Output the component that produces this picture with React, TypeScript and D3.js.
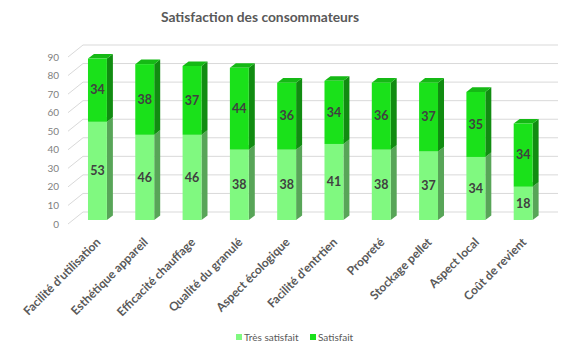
import * as d3 from 'd3'

const categories = [
  "Facilité d'utilisation",
  'Esthétique appareil',
  'Efficacité chauffage',
  'Qualité du granulé',
  'Aspect écologique',
  "Facilité d'entrtien",
  'Propreté',
  'Stockage pellet',
  'Aspect local',
  'Coût de revient',
]
const tresSatisfait = [53, 46, 46, 38, 38, 41, 38, 37, 34, 18]
const satisfait = [34, 38, 37, 44, 36, 34, 36, 37, 35, 34]
const seriesNames = ['Très satisfait', 'Satisfait']
const yTicks = [0, 10, 20, 30, 40, 50, 60, 70, 80, 90]

const W = 587
const H = 354
const FONT = 'Lato, "Open Sans", sans-serif'

// 3d depth of the plot (front -> back wall)
const DX = 15
const DY = -12
// bars sit a third of the way in, and are 0.4 of the depth deep
const barShift = { x: DX / 3, y: DY / 3 }
const barDepth = { x: 6, y: -4.6 }

const colors = [
  { front: '#80f980', side: '#58a558', top: '#6fd96f' },
  { front: '#1ae11a', side: '#118c11', top: '#15b915' },
]

const x = d3
  .scaleBand<string>()
  .domain(categories)
  .range([54.6, 556])
  .paddingInner(0.6)
  .paddingOuter(0.6)

const y = d3.scaleLinear().domain([0, 90]).range([224, 57])

const poly = (pts: [number, number][]) => 'M' + pts.map(p => p.join(',')).join('L') + 'Z'

export default function App() {
  const stack = d3.stack<number>().keys(['0', '1']).value((i, k) => (k === '0' ? tresSatisfait[i] : satisfait[i]))
  const layers = stack(d3.range(categories.length))
  const bw = x.bandwidth()
  const plotLeft = 68
  const plotRight = 543

  return (
    <svg width={W} height={H} style={{ position: 'absolute', left: 0, top: 0, background: '#fff' }}>
      <text x={260} y={22} textAnchor="middle" fontFamily={FONT} fontSize={13.8} fontWeight={700} fill="#595959">
        Satisfaction des consommateurs
      </text>

      {/* walls: gridlines on side wall and back wall */}
      <g stroke="#d9d9d9" strokeWidth={1} fill="none">
        {yTicks.map(t => (
          <g key={t}>
            <line x1={plotLeft} y1={y(t)} x2={plotLeft + DX} y2={y(t) + DY} />
            <line x1={plotLeft + DX} y1={y(t) + DY} x2={plotRight + DX} y2={y(t) + DY} />
          </g>
        ))}
      </g>

      <g fontFamily={FONT} fontSize={10} fill="#7f7f7f" textAnchor="end">
        {yTicks.map(t => (
          <text key={t} x={59} y={y(t)} dy="0.35em">
            {t}
          </text>
        ))}
      </g>

      {/* bars */}
      {categories.map((c, i) => {
        const x0 = x(c)! + barShift.x
        const x1 = x0 + bw
        return (
          <g key={c}>
            {layers.map((layer, s) => {
              const [v0, v1] = layer[i]
              const yb = y(v0) + barShift.y
              const yt = y(v1) + barShift.y
              const col = colors[s]
              return (
                <g key={s}>
                  <path
                    d={poly([
                      [x1, yt],
                      [x1 + barDepth.x, yt + barDepth.y],
                      [x1 + barDepth.x, yb + barDepth.y],
                      [x1, yb],
                    ])}
                    fill={col.side}
                  />
                  <path
                    d={poly([
                      [x0, yt],
                      [x0 + barDepth.x, yt + barDepth.y],
                      [x1 + barDepth.x, yt + barDepth.y],
                      [x1, yt],
                    ])}
                    fill={col.top}
                  />
                  <rect x={x0} y={yt} width={bw} height={yb - yt} fill={col.front} />
                  <text
                    x={(x0 + x1) / 2}
                    y={(yt + yb) / 2}
                    dy="0.35em"
                    textAnchor="middle"
                    fontFamily={FONT}
                    fontSize={12.5}
                    fontWeight={700}
                    fill="#404040"
                  >
                    {v1 - v0}
                  </text>
                </g>
              )
            })}
          </g>
        )
      })}

      {/* category labels */}
      <g fontFamily={FONT} fontSize={12} fontWeight={700} fill="#595959" textAnchor="end">
        {categories.map(c => {
          const cx = x(c)! + barShift.x + bw / 2 + 1
          const cy = 240
          return (
            <text key={c} transform={`translate(${cx},${cy}) rotate(-45)`} dy="0.35em">
              {c}
            </text>
          )
        })}
      </g>

      {/* legend */}
      <g fontFamily={FONT} fontSize={10} fill="#595959">
        {seriesNames.map((n, i) => {
          const lx = i === 0 ? 236 : 310
          return (
            <g key={n}>
              <rect x={lx} y={334} width={6} height={6} fill={colors[i].front} />
              <text x={lx + 8} y={337} dy="0.35em">
                {n}
              </text>
            </g>
          )
        })}
      </g>
    </svg>
  )
}
